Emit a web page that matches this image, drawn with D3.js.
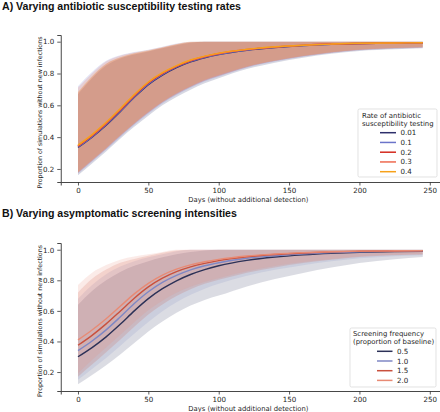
<!DOCTYPE html>
<html><head><meta charset="utf-8">
<script src="https://cdn.jsdelivr.net/npm/d3@7"></script>
<style>body{margin:0;background:#fff}svg{display:block}</style>
</head><body>
<svg id="c" width="440" height="412"></svg>
<script>
// ---------- DATA ----------
const days = [0,10,20,30,40,50,60,70,80,90,100,120,140,160,180,200,225,245];
const xTicks = [0,50,100,150,200,250];
const yTicks = [0.2,0.4,0.6,0.8,1.0];

// Panel A: rate of antibiotic susceptibility testing
const aLabels = ["0.01","0.1","0.2","0.3","0.4"];
const aMean001 = [0.335,0.400,0.475,0.560,0.650,0.730,0.790,0.837,0.873,0.899,0.919,0.946,0.963,0.975,0.983,0.988,0.991,0.992];
const aMean01  = [0.338,0.403,0.479,0.564,0.654,0.734,0.794,0.841,0.876,0.902,0.921,0.948,0.965,0.976,0.984,0.989,0.991,0.992];
const aMean02  = [0.343,0.409,0.485,0.570,0.660,0.740,0.799,0.845,0.880,0.905,0.924,0.950,0.966,0.977,0.985,0.989,0.992,0.993];
const aMean03  = [0.346,0.412,0.488,0.574,0.663,0.743,0.802,0.847,0.882,0.907,0.926,0.951,0.967,0.978,0.985,0.989,0.992,0.993];
const aMean04  = [0.350,0.416,0.493,0.579,0.668,0.747,0.806,0.850,0.885,0.909,0.928,0.952,0.968,0.978,0.985,0.990,0.992,0.993];
const aLo001 = [0.160,0.235,0.310,0.390,0.465,0.535,0.600,0.652,0.698,0.738,0.770,0.828,0.868,0.899,0.924,0.942,0.952,0.958];
const aLo01  = [0.170,0.245,0.320,0.400,0.476,0.547,0.612,0.665,0.710,0.750,0.780,0.836,0.875,0.905,0.929,0.946,0.956,0.962];
const aLo02  = [0.175,0.250,0.326,0.406,0.482,0.553,0.617,0.670,0.715,0.755,0.785,0.840,0.878,0.908,0.931,0.948,0.958,0.964];
const aLo03  = [0.180,0.255,0.330,0.410,0.486,0.557,0.621,0.674,0.718,0.758,0.788,0.843,0.880,0.910,0.933,0.950,0.960,0.965];
const aLo04  = [0.180,0.256,0.332,0.412,0.488,0.560,0.623,0.676,0.720,0.760,0.790,0.844,0.881,0.911,0.934,0.951,0.960,0.966];
const aHi001 = [0.670,0.770,0.850,0.895,0.920,0.938,0.958,0.978,0.993,1.0,1.0,1.0,1.0,1.0,1.0,1.0,1.0,1.0];
const aHi01  = [0.720,0.810,0.880,0.915,0.935,0.950,0.968,0.988,1.0,1.0,1.0,1.0,1.0,1.0,1.0,1.0,1.0,1.0];
const aHi02  = [0.680,0.780,0.860,0.900,0.925,0.942,0.962,0.982,0.996,1.0,1.0,1.0,1.0,1.0,1.0,1.0,1.0,1.0];
const aHi03  = [0.710,0.800,0.875,0.912,0.932,0.948,0.966,0.986,1.0,1.0,1.0,1.0,1.0,1.0,1.0,1.0,1.0,1.0];
const aHi04  = [0.685,0.785,0.862,0.902,0.927,0.944,0.964,0.984,0.998,1.0,1.0,1.0,1.0,1.0,1.0,1.0,1.0,1.0];
const aColors = ["#2d2f6b","#6b74c9","#d42a1e","#ee6a50","#f7a11a"];

// Panel B: screening frequency (proportion of baseline)
const bLabels = ["0.5","1.0","1.5","2.0"];
const bMean05 = [0.300,0.360,0.430,0.512,0.600,0.680,0.745,0.797,0.838,0.870,0.895,0.930,0.952,0.966,0.976,0.983,0.988,0.990];
const bMean10 = [0.340,0.403,0.476,0.560,0.648,0.725,0.786,0.832,0.868,0.895,0.915,0.944,0.961,0.973,0.982,0.987,0.990,0.992];
const bMean15 = [0.375,0.440,0.515,0.598,0.683,0.757,0.814,0.857,0.888,0.911,0.929,0.954,0.969,0.979,0.986,0.990,0.992,0.993];
const bMean20 = [0.410,0.475,0.549,0.630,0.711,0.780,0.834,0.873,0.901,0.921,0.937,0.959,0.972,0.981,0.987,0.991,0.993,0.994];
const bLo05 = [0.120,0.180,0.245,0.315,0.390,0.465,0.530,0.588,0.635,0.672,0.700,0.760,0.808,0.848,0.883,0.913,0.938,0.953];
const bLo10 = [0.150,0.220,0.292,0.370,0.450,0.527,0.597,0.656,0.705,0.745,0.777,0.830,0.869,0.899,0.924,0.944,0.958,0.964];
const bLo15 = [0.170,0.250,0.330,0.412,0.496,0.576,0.642,0.697,0.742,0.777,0.803,0.850,0.884,0.913,0.934,0.953,0.964,0.969];
const bLo20 = [0.190,0.278,0.360,0.442,0.526,0.604,0.667,0.718,0.758,0.789,0.814,0.859,0.893,0.919,0.939,0.957,0.967,0.971];
const bHi05 = [0.640,0.730,0.800,0.855,0.895,0.925,0.950,0.970,0.985,0.995,1.0,1.0,1.0,1.0,1.0,1.0,1.0,1.0];
const bHi10 = [0.680,0.770,0.840,0.890,0.925,0.950,0.970,0.990,1.0,1.0,1.0,1.0,1.0,1.0,1.0,1.0,1.0,1.0];
const bHi15 = [0.720,0.810,0.870,0.915,0.940,0.960,0.980,0.995,1.0,1.0,1.0,1.0,1.0,1.0,1.0,1.0,1.0,1.0];
const bHi20 = [0.770,0.850,0.900,0.935,0.955,0.970,0.985,1.0,1.0,1.0,1.0,1.0,1.0,1.0,1.0,1.0,1.0,1.0];
const bColors = ["#2c3157","#7f87c4","#c9503d","#e88a74"];

// ---------- DRAW ----------
const svg = d3.select("#c");
const tickFont = "DejaVu Sans, sans-serif";

const panels = [
  { title:"A) Varying antibiotic susceptibility testing rates", titleY:9.5,
    top:35, bottom:182, yDomain:[0.118,1.042],
    labels:aLabels, colors:aColors, bandAlpha:0.19,
    means:[aMean001,aMean01,aMean02,aMean03,aMean04],
    los:[aLo001,aLo01,aLo02,aLo03,aLo04],
    his:[aHi001,aHi01,aHi02,aHi03,aHi04],
    legendTitle:["Rate of antibiotic","susceptibility testing"],
    leg:{x0:358,x1:437,y0:109,y1:177,tx:362,t1:117.5,t2:125.5,e0:132.7,de:9.75,h0:380,h1:396,lx:400.5}
  },
  { title:"B) Varying asymptomatic screening intensities", titleY:217,
    top:243, bottom:391, yDomain:[0.076,1.044],
    labels:bLabels, colors:bColors, bandAlpha:0.17,
    means:[bMean05,bMean10,bMean15,bMean20],
    los:[bLo05,bLo10,bLo15,bLo20],
    his:[bHi05,bHi10,bHi15,bHi20],
    legendTitle:["Screening frequency","(proportion of baseline)"],
    leg:{x0:350,x1:436,y0:328,y1:387,tx:353,t1:336,t2:343.5,e0:351.3,de:9.7,h0:377,h1:392.5,lx:397}
  }
];

const left = 60.75, right = 440;
panels.forEach(p => {
  const g = svg.append("g");
  const x = d3.scaleLinear().domain([-12.25,257.25]).range([left,right]);
  const y = d3.scaleLinear().domain(p.yDomain).range([p.bottom,p.top]);

  g.append("text").attr("x",2).attr("y",p.titleY)
    .attr("font-family","Liberation Sans, Arial, sans-serif").attr("font-weight","bold")
    .attr("font-size",10.6).attr("fill","#111").text(p.title);

  const area = d3.area().x((d,i)=>x(days[i])).y0(d=>y(d[0])).y1(d=>y(d[1])).curve(d3.curveMonotoneX);
  const line = d3.line().x((d,i)=>x(days[i])).y(d=>y(d)).curve(d3.curveMonotoneX);

  p.means.forEach((m,k) => {
    const pts = days.map((d,i)=>[p.los[k][i],p.his[k][i]]);
    g.append("path").attr("d",area(pts)).attr("fill",p.colors[k]).attr("fill-opacity",p.bandAlpha);
  });
  p.means.forEach((m,k) => {
    g.append("path").attr("d",line(m)).attr("fill","none")
      .attr("stroke",p.colors[k]).attr("stroke-width",1.4);
  });

  // axes
  const xa = g.append("g").attr("transform",`translate(0,${p.bottom})`)
    .call(d3.axisBottom(x).tickValues(xTicks).tickSize(3.5).tickPadding(2.5).tickFormat(d3.format("d")));
  const ya = g.append("g").attr("transform",`translate(${left},0)`)
    .call(d3.axisLeft(y).tickValues(yTicks).tickSize(3.5).tickPadding(3).tickFormat(d3.format(".1f")));
  [xa,ya].forEach(a=>{
    a.select(".domain").attr("stroke","#333").attr("stroke-width",0.9);
    a.selectAll(".tick line").attr("stroke","#333").attr("stroke-width",0.8);
    a.selectAll("text").attr("font-family",tickFont).attr("font-size",7.1).attr("fill","#262626");
  });

  g.append("text").attr("x",(x(-12.25)+x(257.25))/2 - 2).attr("y",p.bottom+19.5)
    .attr("text-anchor","middle").attr("font-family",tickFont).attr("font-size",6.8).attr("fill","#262626")
    .text("Days (without additional detection)");
  g.append("text").attr("transform",`translate(41.5,${(p.top+p.bottom)/2 + 4}) rotate(-90)`)
    .attr("text-anchor","middle").attr("font-family",tickFont).attr("font-size",6.3).attr("fill","#262626")
    .text("Proportion of simulations without new infections");

  // legend
  const L = p.leg;
  g.append("rect").attr("x",L.x0).attr("y",L.y0).attr("width",L.x1-L.x0).attr("height",L.y1-L.y0)
    .attr("rx",1.5).attr("fill","#fff").attr("fill-opacity",0.85).attr("stroke","#d6d6d6").attr("stroke-width",0.7);
  g.append("text").attr("x",L.tx).attr("y",L.t1).attr("font-family",tickFont).attr("font-size",6.9).attr("fill","#262626").text(p.legendTitle[0]);
  g.append("text").attr("x",L.tx).attr("y",L.t2).attr("font-family",tickFont).attr("font-size",6.9).attr("fill","#262626").text(p.legendTitle[1]);
  p.labels.forEach((lab,k)=>{
    const yy = L.e0 + k*L.de;
    g.append("line").attr("x1",L.h0).attr("x2",L.h1).attr("y1",yy).attr("y2",yy)
      .attr("stroke",p.colors[k]).attr("stroke-width",1.5);
    g.append("text").attr("x",L.lx).attr("y",yy+2.5).attr("font-family",tickFont).attr("font-size",7.1)
      .attr("fill","#262626").text(lab);
  });
});
</script>
</body></html>
